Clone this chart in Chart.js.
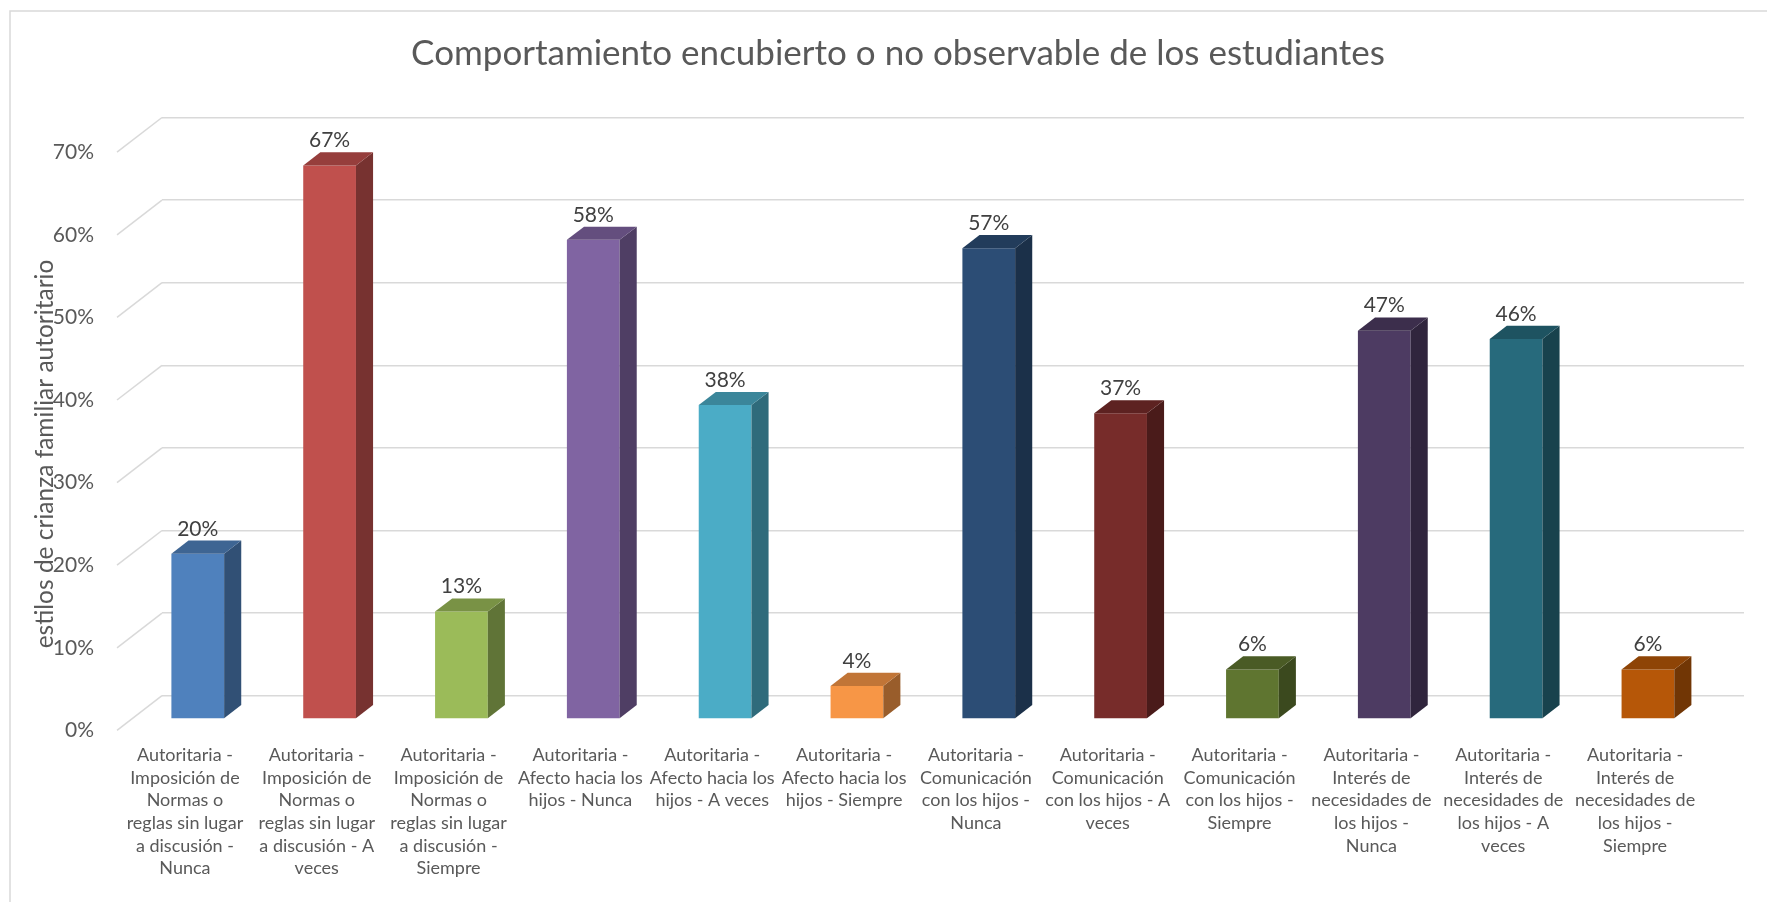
<!DOCTYPE html>
<html>
<head>
<meta charset="utf-8">
<script src="https://cdn.jsdelivr.net/npm/chart.js@4.4.0/dist/chart.umd.min.js"></script>
<style>
  body { margin: 0; background: #fff; }
  canvas { display: block; }
</style>
</head>
<body>
<canvas id="myChart" width="1767" height="902"></canvas>
<script>
"use strict";

// DATA
const categories = [
  ["Autoritaria -", "Imposición de", "Normas o", "reglas sin lugar", "a discusión -", "Nunca"],
  ["Autoritaria -", "Imposición de", "Normas o", "reglas sin lugar", "a discusión - A", "veces"],
  ["Autoritaria -", "Imposición de", "Normas o", "reglas sin lugar", "a discusión -", "Siempre"],
  ["Autoritaria -", "Afecto hacia los", "hijos - Nunca"],
  ["Autoritaria -", "Afecto hacia los", "hijos - A veces"],
  ["Autoritaria -", "Afecto hacia los", "hijos - Siempre"],
  ["Autoritaria -", "Comunicación", "con los hijos -", "Nunca"],
  ["Autoritaria -", "Comunicación", "con los hijos - A", "veces"],
  ["Autoritaria -", "Comunicación", "con los hijos -", "Siempre"],
  ["Autoritaria -", "Interés de", "necesidades de", "los hijos -", "Nunca"],
  ["Autoritaria -", "Interés de", "necesidades de", "los hijos - A", "veces"],
  ["Autoritaria -", "Interés de", "necesidades de", "los hijos -", "Siempre"],
];
const values = [0.20, 0.67, 0.13, 0.58, 0.38, 0.04, 0.57, 0.37, 0.06, 0.47, 0.46, 0.06];
const yTicks = [0, 0.1, 0.2, 0.3, 0.4, 0.5, 0.6, 0.7];

const chartTitle = "Comportamiento encubierto o no observable de los estudiantes";
const yAxisTitle = "estilos de crianza familiar autoritario";

// STYLE
const barColors = [
  "#4F81BD", "#C0504D", "#9BBB59", "#8064A2", "#4BACC6", "#F79646",
  "#2C4D75", "#772C2A", "#5F7530", "#4D3B62", "#276A7C", "#B65708",
];
const textColor = "#595959";
const gridColor = "#D9D9D9";
const FONT = "Lato";

// 3D projection (floor depth and where the bars sit on it)
const DEPTH_X = 45;
const DEPTH_Y = 34.7;
const BAR_FRONT = 0.67;
const BAR_DEPTH = 0.38;

const shade = (hex, f) => {
  const n = parseInt(hex.slice(1), 16);
  const r = Math.round(((n >> 16) & 255) * f);
  const g = Math.round(((n >> 8) & 255) * f);
  const b = Math.round((n & 255) * f);
  return `rgb(${r},${g},${b})`;
};

const pct = (v) => `${Math.round(v * 100)}%`;

const threeD = {
  id: "threeD",
  beforeDraw(chart) {
    const { ctx, width, height } = chart;
    ctx.save();
    ctx.fillStyle = "#fff";
    ctx.fillRect(0, 0, width, height);
    // chart border (only top and left are visible)
    ctx.strokeStyle = gridColor;
    ctx.lineWidth = 1.5;
    ctx.strokeRect(10, 11, width + 20, height + 20);
    ctx.restore();
  },
  beforeDatasetsDraw(chart) {
    const { ctx, chartArea, scales } = chart;
    // floor diagonals from the back wall to the front of the axis
    ctx.save();
    ctx.strokeStyle = gridColor;
    ctx.lineWidth = 1.5;
    yTicks.forEach((v) => {
      const y = scales.y.getPixelForValue(v);
      ctx.beginPath();
      ctx.moveTo(chartArea.left, y);
      ctx.lineTo(chartArea.left - DEPTH_X, y + DEPTH_Y);
      ctx.stroke();
    });
    ctx.restore();

    ctx.save();
    ctx.translate(-DEPTH_X * BAR_FRONT, DEPTH_Y * BAR_FRONT);
  },
  afterDatasetsDraw(chart) {
    const { ctx } = chart;
    const dx = DEPTH_X * BAR_DEPTH;
    const dy = DEPTH_Y * BAR_DEPTH;
    const meta = chart.getDatasetMeta(0);
    meta.data.forEach((bar, i) => {
      const { x, y, base, width } = bar.getProps(["x", "y", "base", "width"], true);
      const l = x - width / 2;
      const r = x + width / 2;
      // side
      ctx.fillStyle = shade(barColors[i], 0.62);
      ctx.beginPath();
      ctx.moveTo(r, y);
      ctx.lineTo(r + dx, y - dy);
      ctx.lineTo(r + dx, base - dy);
      ctx.lineTo(r, base);
      ctx.closePath();
      ctx.fill();
      // top
      ctx.fillStyle = shade(barColors[i], 0.78);
      ctx.beginPath();
      ctx.moveTo(l, y);
      ctx.lineTo(l + dx, y - dy);
      ctx.lineTo(r + dx, y - dy);
      ctx.lineTo(r, y);
      ctx.closePath();
      ctx.fill();
      // value label
      ctx.fillStyle = "#404040";
      ctx.font = `21px ${FONT}`;
      ctx.textAlign = "center";
      ctx.textBaseline = "middle";
      ctx.fillText(pct(values[i]), x, y - 25);
    });
    ctx.restore();
  },
  afterDraw(chart) {
    const { ctx } = chart;
    ctx.save();
    ctx.translate(45, 454);
    ctx.rotate(-Math.PI / 2);
    ctx.fillStyle = textColor;
    ctx.font = `24.5px ${FONT}`;
    ctx.textAlign = "center";
    ctx.textBaseline = "middle";
    ctx.fillText(yAxisTitle, 0, 0);
    ctx.restore();
  },
};

const ctx = document.getElementById("myChart").getContext("2d");
const myChart = new Chart(ctx, {
  type: "bar",
  data: {
    labels: categories,
    datasets: [
      {
        label: "Comportamiento",
        data: values,
        backgroundColor: barColors,
        borderWidth: 0,
        categoryPercentage: 1,
        barPercentage: 0.4,
        clip: false,
      },
    ],
  },
  options: {
    responsive: false,
    animation: false,
    layout: { padding: { left: 52, right: 23, top: 0, bottom: 0 } },
    plugins: {
      legend: { display: false },
      tooltip: { enabled: false },
      title: {
        display: true,
        text: chartTitle,
        color: textColor,
        font: { family: FONT, size: 35, weight: "normal", lineHeight: 1.2 },
        padding: { top: 33, bottom: 42.5 },
      },
    },
    scales: {
      x: {
        grid: { display: false, drawTicks: false },
        border: { display: false },
        ticks: {
          color: textColor,
          font: { family: FONT, size: 18, lineHeight: 1.26 },
          padding: 48,
          labelOffset: -43,
          autoSkip: false,
          maxRotation: 0,
          minRotation: 0,
        },
        afterFit: (s) => {
          s.height = 902 - 695.7;
          s.paddingLeft = 0;
          s.paddingRight = 0;
        },
      },
      y: {
        min: 0,
        max: 0.7,
        grid: { color: gridColor, lineWidth: 1.5, drawTicks: false },
        border: { display: false },
        ticks: {
          stepSize: 0.1,
          color: textColor,
          font: { family: FONT, size: 21 },
          padding: 68,
          labelOffset: DEPTH_Y,
          callback: (v) => pct(v),
        },
        afterFit: (s) => {
          s.width = 162 - 52;
          s.paddingTop = 0;
          s.paddingBottom = 0;
        },
      },
    },
  },
  plugins: [threeD],
});
</script>
</body>
</html>
